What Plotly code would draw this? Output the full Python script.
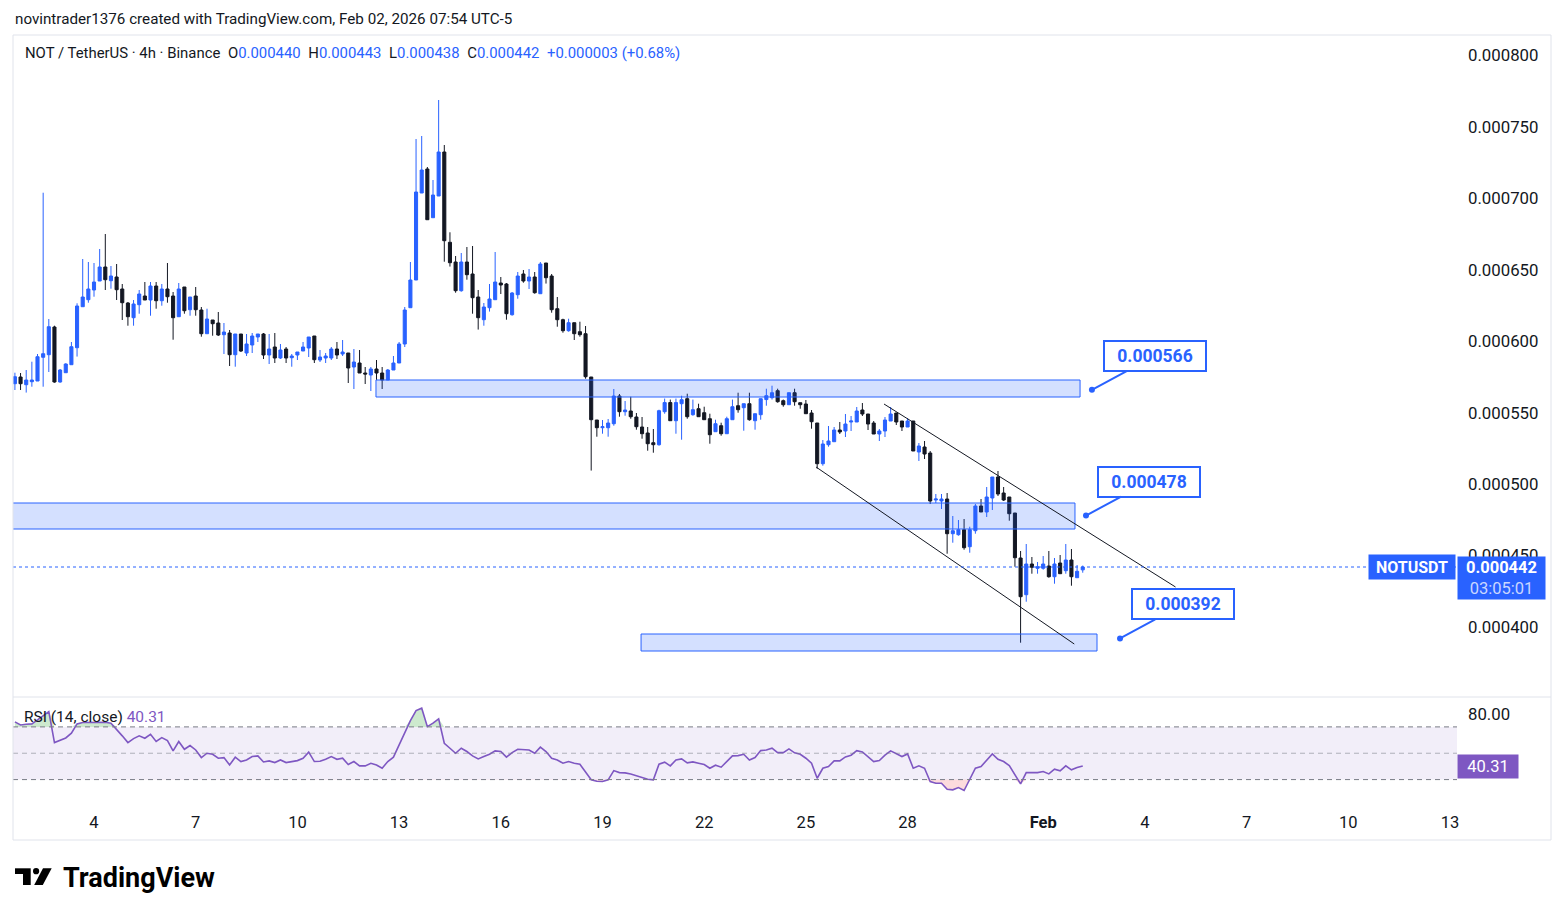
import plotly.graph_objects as go
import pandas as pd

BLUE = "#2962ff"
DARK = "#131722"
PURPLE = "#7e57c2"
FONT = "Roboto"

# ---------------- data (prices in millionths of USDT) ----------------
open_u = [
    570.3, 575.0, 569.6, 571.7, 572.2, 588.8, 590.6, 610.0, 571.5, 578.0,
    583.6, 595.5, 624.2, 629.1, 635.9, 642.2, 652.0, 642.4, 645.0, 636.6,
    626.8, 616.5, 625.6, 631.7, 628.9, 638.7, 628.4, 636.6, 631.7, 617.2,
    638.0, 622.1, 631.7, 621.9, 605.3, 614.9, 612.8, 604.6, 605.8, 590.6,
    605.1, 591.8, 597.4, 603.0, 605.1, 590.4, 596.0, 588.3, 594.6, 588.5,
    590.4, 593.2, 595.3, 603.7, 586.9, 588.3, 588.3, 594.6, 591.1, 591.8,
    582.0, 584.8, 577.8, 576.4, 580.6, 577.8, 572.9, 579.9, 584.8, 598.1,
    623.5, 642.9, 703.8, 720.6, 686.5, 701.7, 732.5, 669.3, 655.5, 635.4,
    655.5, 647.1, 631.0, 615.1, 623.5, 629.1, 640.8, 640.1, 618.6, 632.6,
    647.1, 642.2, 645.0, 633.3, 654.8, 645.7, 622.8, 615.1, 607.4, 613.0,
    606.7, 605.3, 575.0, 544.9, 539.5, 539.5, 542.3, 561.7, 550.7, 551.2,
    547.0, 540.0, 535.8, 529.0, 527.6, 550.7, 557.1, 544.4, 556.3, 559.8,
    548.6, 552.8, 550.0, 545.8, 536.7, 540.9, 535.3, 545.1, 554.9, 553.5,
    556.3, 544.4, 548.6, 559.2, 560.5, 565.4, 558.4, 555.6, 564.0, 557.0,
    556.1, 549.8, 542.8, 514.3, 527.6, 529.7, 537.9, 537.2, 543.5, 543.5,
    551.9, 549.1, 542.8, 535.1, 537.2, 544.2, 549.8, 544.2, 540.0, 544.2,
    522.5, 526.0, 521.8, 488.9, 488.2, 489.6, 465.3, 464.6, 468.1, 456.2,
    467.4, 484.7, 480.5, 490.3, 505.0, 493.8, 491.0, 479.8, 448.3, 422.6,
    444.1, 441.1, 441.1, 442.7, 435.2, 444.8, 439.4, 446.9, 434.5, 440.0,
]
high_u = [
    578.0, 577.8, 579.9, 585.7, 591.1, 704.0, 615.6, 610.9, 580.6, 584.6,
    599.5, 626.6, 657.6, 655.5, 654.8, 664.6, 675.1, 652.7, 654.1, 640.1,
    627.5, 628.9, 635.9, 641.5, 641.5, 641.5, 640.1, 654.8, 634.5, 640.8,
    638.0, 631.0, 638.0, 624.0, 622.8, 614.9, 620.5, 612.8, 607.9, 605.1,
    605.1, 605.1, 605.8, 605.1, 605.8, 605.1, 605.8, 598.1, 596.0, 591.1,
    592.5, 599.5, 603.0, 603.7, 593.9, 591.8, 596.0, 599.5, 600.9, 591.8,
    594.6, 593.9, 582.0, 582.0, 586.9, 582.0, 580.6, 589.7, 599.5, 624.0,
    655.5, 741.6, 743.7, 722.0, 712.9, 768.9, 737.4, 676.3, 659.7, 661.8,
    666.0, 666.7, 635.9, 626.8, 640.1, 662.5, 645.0, 640.8, 634.5, 648.5,
    649.9, 650.6, 648.5, 655.5, 654.8, 647.1, 631.0, 615.8, 615.8, 613.0,
    613.7, 610.7, 575.0, 544.9, 544.9, 545.6, 566.6, 563.1, 558.2, 561.2,
    549.8, 547.0, 540.0, 538.6, 552.1, 559.9, 559.2, 559.9, 561.9, 563.3,
    559.2, 556.3, 554.2, 549.3, 545.1, 543.0, 547.2, 559.2, 564.0, 556.3,
    564.0, 549.3, 559.8, 566.8, 568.9, 566.8, 559.2, 564.0, 566.8, 557.0,
    558.9, 551.9, 542.8, 530.9, 540.7, 540.0, 543.5, 549.1, 547.7, 554.0,
    556.8, 549.1, 544.2, 538.6, 547.0, 554.0, 549.8, 544.2, 546.3, 544.2,
    528.8, 530.2, 523.2, 493.1, 493.1, 493.8, 477.7, 474.9, 475.6, 470.2,
    486.1, 489.6, 498.0, 505.0, 509.2, 498.0, 491.0, 479.8, 453.2, 458.1,
    449.0, 445.5, 449.7, 453.2, 448.3, 450.4, 458.1, 454.6, 443.4, 443.0,
]
low_u = [
    565.9, 565.9, 564.1, 568.2, 572.2, 568.2, 578.5, 571.0, 571.0, 578.0,
    583.6, 589.3, 624.2, 627.0, 631.2, 642.2, 635.9, 636.8, 628.9, 614.9,
    610.9, 610.9, 619.3, 628.9, 617.9, 622.8, 624.9, 627.0, 601.1, 617.2,
    619.3, 617.9, 617.9, 603.2, 605.3, 603.9, 603.7, 591.1, 582.7, 582.2,
    592.5, 589.7, 591.8, 599.5, 587.6, 584.1, 584.8, 587.6, 584.8, 582.2,
    586.9, 593.2, 589.0, 584.8, 585.5, 584.8, 586.9, 587.6, 589.7, 570.8,
    566.6, 577.8, 570.1, 565.2, 572.9, 566.6, 572.9, 579.9, 584.8, 596.0,
    623.5, 642.9, 703.8, 685.1, 686.5, 701.7, 655.7, 652.3, 634.0, 634.7,
    643.1, 619.3, 608.2, 610.9, 620.8, 629.1, 633.1, 615.1, 617.9, 629.8,
    641.0, 636.6, 633.3, 633.3, 640.4, 620.0, 610.2, 606.0, 606.7, 600.9,
    603.2, 573.8, 509.5, 533.2, 535.3, 533.2, 540.9, 547.2, 547.9, 545.8,
    538.1, 531.8, 523.4, 522.0, 526.9, 549.3, 544.4, 535.3, 531.1, 545.8,
    547.9, 547.2, 545.1, 528.3, 536.7, 533.9, 535.3, 545.1, 550.0, 537.4,
    544.4, 538.1, 545.1, 554.9, 559.2, 557.0, 554.2, 555.6, 554.9, 552.8,
    549.3, 538.8, 510.8, 512.9, 526.2, 529.7, 535.1, 533.0, 537.2, 543.5,
    547.7, 537.9, 535.1, 530.2, 533.0, 544.2, 541.4, 537.2, 540.0, 523.2,
    516.2, 517.6, 486.1, 486.8, 482.6, 451.3, 459.0, 463.9, 454.1, 452.0,
    465.3, 480.5, 477.0, 481.9, 491.7, 488.2, 474.4, 442.2, 389.0, 417.7,
    437.3, 437.3, 440.1, 434.5, 430.3, 437.3, 437.3, 428.9, 434.5, 438.0,
]
close_u = [
    575.2, 570.3, 572.9, 572.9, 589.2, 591.3, 610.2, 571.5, 579.9, 584.1,
    596.2, 624.7, 631.0, 636.6, 641.5, 652.0, 643.1, 645.7, 636.1, 627.0,
    617.2, 626.1, 633.1, 628.9, 638.7, 628.4, 636.6, 631.2, 616.5, 636.6,
    621.4, 631.0, 622.1, 605.3, 615.6, 612.3, 604.4, 606.5, 590.6, 605.1,
    593.2, 598.1, 603.7, 605.1, 590.4, 594.6, 588.3, 593.9, 588.3, 589.7,
    592.5, 596.0, 603.0, 587.1, 589.0, 589.7, 594.6, 590.4, 592.5, 581.3,
    585.5, 577.8, 577.1, 580.6, 577.8, 572.9, 579.9, 584.8, 598.1, 621.9,
    642.9, 704.5, 719.9, 685.1, 702.4, 732.5, 670.4, 655.0, 635.4, 655.5,
    646.6, 630.5, 616.5, 624.0, 629.6, 641.5, 639.4, 619.3, 633.8, 645.7,
    642.2, 645.0, 634.0, 654.1, 644.5, 622.1, 615.1, 607.4, 613.0, 605.3,
    604.6, 575.2, 545.1, 539.5, 540.2, 542.8, 561.7, 550.7, 551.9, 547.2,
    540.2, 535.3, 528.3, 527.6, 551.4, 557.1, 544.4, 557.1, 559.1, 547.2,
    552.1, 547.2, 545.1, 534.6, 542.3, 535.3, 545.8, 554.2, 552.1, 556.3,
    545.1, 549.3, 559.8, 561.9, 564.0, 557.7, 555.6, 564.0, 557.7, 555.6,
    549.3, 543.7, 514.3, 528.1, 530.2, 537.9, 536.5, 542.1, 544.2, 551.2,
    549.1, 542.1, 535.1, 537.2, 544.9, 549.1, 543.5, 540.0, 544.2, 523.2,
    526.7, 521.1, 488.2, 489.6, 489.6, 465.3, 467.4, 468.1, 455.5, 468.1,
    484.7, 480.5, 491.0, 505.0, 493.1, 488.9, 479.3, 448.5, 421.2, 444.1,
    441.8, 442.2, 444.1, 435.2, 444.1, 437.3, 446.9, 435.2, 439.0, 442.0,
]
rsi_vals = [
    73.8, 71.5, 72.0, 72.3, 75.3, 78.8, 81.6, 58.1, 60.1, 61.6,
    65.2, 72.3, 73.3, 73.3, 73.3, 73.5, 73.5, 72.8, 68.2, 63.2,
    58.1, 61.1, 63.2, 61.4, 64.4, 58.9, 61.9, 59.6, 51.8, 58.9,
    53.0, 55.8, 52.5, 46.7, 50.0, 49.2, 46.2, 46.7, 41.1, 47.0,
    43.7, 44.9, 47.5, 48.0, 43.4, 44.2, 42.9, 44.9, 42.9, 43.4,
    44.4, 46.2, 50.8, 43.7, 43.9, 45.4, 47.5, 45.4, 46.2, 41.4,
    43.7, 40.4, 40.4, 42.4, 41.1, 38.6, 43.7, 47.0, 56.3, 65.2,
    74.8, 82.4, 84.2, 70.2, 72.8, 76.1, 57.6, 53.8, 50.0, 53.8,
    51.3, 48.0, 45.7, 47.5, 49.2, 51.8, 51.3, 47.0, 50.5, 53.0,
    52.5, 52.5, 50.0, 54.6, 51.3, 46.2, 44.9, 42.4, 43.7, 42.4,
    41.7, 35.3, 29.8, 28.7, 28.5, 29.8, 36.8, 35.3, 35.1, 34.3,
    32.8, 31.5, 30.3, 29.8, 41.7, 43.2, 40.4, 44.9, 45.7, 42.7,
    43.4, 42.4, 41.4, 38.6, 40.9, 39.4, 43.7, 48.0, 48.2, 49.2,
    44.9, 46.7, 52.0, 52.5, 53.8, 50.5, 50.5, 53.3, 50.3, 49.2,
    46.2, 42.4, 31.0, 38.6, 39.9, 44.2, 44.2, 47.2, 48.5, 52.0,
    51.0, 47.0, 43.7, 44.4, 48.5, 51.8, 49.5, 47.5, 49.5, 38.6,
    40.4, 38.6, 28.5, 27.2, 27.2, 22.7, 22.2, 23.9, 21.7, 30.3,
    38.6, 39.9, 44.4, 49.5, 45.4, 43.7, 40.6, 33.6, 26.7, 35.3,
    35.3, 35.3, 36.1, 34.3, 37.9, 36.6, 40.4, 37.4, 39.1, 40.31,
]

first_bar = "2026-01-01 19:00"
bar_times = pd.date_range(first_bar, periods=len(close_u), freq="4h")

tick_dates = ["2026-01-04 03:00", "2026-01-07 03:00", "2026-01-10 03:00", "2026-01-13 03:00",
              "2026-01-16 03:00", "2026-01-19 03:00", "2026-01-22 03:00", "2026-01-25 03:00",
              "2026-01-28 03:00", "2026-02-01 03:00", "2026-02-04 03:00", "2026-02-07 03:00",
              "2026-02-10 03:00", "2026-02-13 03:00"]
tick_labels = ["4", "7", "10", "13", "16", "19", "22", "25", "28", "<b>Feb</b>", "4", "7", "10", "13"]
price_ticks = [0.00040, 0.00045, 0.00050, 0.00055, 0.00060, 0.00065, 0.00070, 0.00075, 0.00080]

# drawings
zone_start = ["2026-01-12 10:38", "2025-12-28 00:00", "2026-01-20 06:18"]
zone_end = ["2026-02-02 05:06", "2026-02-02 01:30", "2026-02-02 17:06"]
zone_low = [0.0005610, 0.0004686, 0.0003832]
zone_high = [0.0005729, 0.0004868, 0.0003951]

channel_t0 = ["2026-01-27 10:18", "2026-01-25 10:12"]
channel_t1 = ["2026-02-05 00:42", "2026-02-02 01:00"]
channel_p0 = [0.0005561, 0.0005120]
channel_p1 = [0.0004280, 0.0003881]

callout_time = ["2026-02-02 13:30", "2026-02-02 09:18", "2026-02-03 09:24"]
callout_price = [0.000566, 0.000478, 0.000392]

last_price = 0.000442
rsi_last = 40.31

scale = 1e-6
O = [v * scale for v in open_u]
Hh = [v * scale for v in high_u]
Ll = [v * scale for v in low_u]
C = [v * scale for v in close_u]

# ---------------- pixel geometry helpers (decoration only) ----------------
PL, PR, PT, PB = 13, 1457, 35, 805


def px(x):
    return (x - PL) / (PR - PL)


def py(y):
    return (PB - y) / (PB - PT)


SPLIT = py(697)

fig = go.Figure()

fig.add_trace(go.Candlestick(
    x=bar_times, open=O, high=Hh, low=Ll, close=C,
    increasing=dict(line=dict(color=BLUE, width=1), fillcolor=BLUE),
    decreasing=dict(line=dict(color=DARK, width=1), fillcolor=DARK),
    whiskerwidth=0, xaxis="x", yaxis="y", hoverinfo="skip", showlegend=False))

# callout dots
fig.add_trace(go.Scatter(x=callout_time, y=callout_price, mode="markers",
                         marker=dict(size=6, color=BLUE), xaxis="x", yaxis="y",
                         hoverinfo="skip", showlegend=False))

# RSI fills
ob = [max(v, 70) for v in rsi_vals]
os_ = [min(v, 30) for v in rsi_vals]
fig.add_trace(go.Scatter(x=bar_times, y=[70] * len(rsi_vals), mode="lines", line=dict(width=0),
                         xaxis="x", yaxis="y2", hoverinfo="skip", showlegend=False))
fig.add_trace(go.Scatter(x=bar_times, y=ob, mode="lines", line=dict(width=0), fill="tonexty",
                         fillcolor="rgba(76,175,80,0.28)", xaxis="x", yaxis="y2",
                         hoverinfo="skip", showlegend=False))
fig.add_trace(go.Scatter(x=bar_times, y=[30] * len(rsi_vals), mode="lines", line=dict(width=0),
                         xaxis="x", yaxis="y2", hoverinfo="skip", showlegend=False))
fig.add_trace(go.Scatter(x=bar_times, y=os_, mode="lines", line=dict(width=0), fill="tonexty",
                         fillcolor="rgba(242,54,69,0.18)", xaxis="x", yaxis="y2",
                         hoverinfo="skip", showlegend=False))
fig.add_trace(go.Scatter(x=bar_times, y=rsi_vals, mode="lines",
                         line=dict(color=PURPLE, width=1.6), xaxis="x", yaxis="y2",
                         hoverinfo="skip", showlegend=False))

shapes = []
# RSI band & levels
shapes.append(dict(type="rect", xref="paper", yref="y2", x0=0, x1=1, y0=30, y1=70,
                   fillcolor="rgba(126,87,194,0.1)", line=dict(width=0), layer="below"))
for lvl, col in [(70, "#787b86"), (30, "#787b86"), (50, "rgba(120,123,134,0.55)")]:
    shapes.append(dict(type="line", xref="paper", yref="y2", x0=0, x1=1, y0=lvl, y1=lvl,
                       line=dict(color=col, width=1, dash="5px,4px")))
# zones
for x0, x1, lo, hi in zip(zone_start, zone_end, zone_low, zone_high):
    shapes.append(dict(type="rect", xref="x", yref="y", x0=x0, x1=x1, y0=lo, y1=hi,
                       fillcolor="rgba(41,98,255,0.2)", line=dict(color=BLUE, width=1)))
# channel
for t0, t1, p0, p1 in zip(channel_t0, channel_t1, channel_p0, channel_p1):
    shapes.append(dict(type="line", xref="x", yref="y", x0=t0, x1=t1, y0=p0, y1=p1,
                       line=dict(color=DARK, width=1)))
# last price line
shapes.append(dict(type="line", xref="paper", yref="y", x0=0, x1=1, y0=last_price, y1=last_price,
                   line=dict(color=BLUE, width=1, dash="dot")))
# frame
FR = px(1551)
FB = py(840)
frame_col = "#e0e3eb"
shapes += [
    dict(type="line", xref="paper", yref="paper", x0=0, x1=FR, y0=1, y1=1, line=dict(color=frame_col, width=1)),
    dict(type="line", xref="paper", yref="paper", x0=0, x1=FR, y0=FB, y1=FB, line=dict(color=frame_col, width=1)),
    dict(type="line", xref="paper", yref="paper", x0=0, x1=0, y0=FB, y1=1, line=dict(color=frame_col, width=1)),
    dict(type="line", xref="paper", yref="paper", x0=FR, x1=FR, y0=FB, y1=1, line=dict(color=frame_col, width=1)),
    dict(type="line", xref="paper", yref="paper", x0=0, x1=FR, y0=SPLIT, y1=SPLIT, line=dict(color=frame_col, width=1)),
]
# TradingView logo glyph
logo_col = "#000000"
shapes += [
    dict(type="rect", xref="paper", yref="paper", x0=px(15), x1=px(30.7), y0=py(874), y1=py(868.3),
         fillcolor=logo_col, line=dict(width=0)),
    dict(type="rect", xref="paper", yref="paper", x0=px(23), x1=px(30.7), y0=py(885), y1=py(874),
         fillcolor=logo_col, line=dict(width=0)),
    dict(type="circle", xref="paper", yref="paper", x0=px(33), x1=px(39.2), y0=py(874.3), y1=py(868.1),
         fillcolor=logo_col, line=dict(width=0)),
    dict(type="path", xref="paper", yref="paper",
         path=f"M {px(43.0)} {py(868.3)} L {px(51.7)} {py(868.3)} L {px(42.8)} {py(885)} L {px(34.2)} {py(885)} Z",
         fillcolor=logo_col, line=dict(width=0)),
]

ann = []
ann.append(dict(xref="paper", yref="paper", x=px(13), y=py(19), xanchor="left", yanchor="middle",
                text="novintrader1376 created with TradingView.com, Feb 02, 2026 07:54 UTC-5",
                showarrow=False, font=dict(size=15.2, color=DARK)))
chg = (close_u[-1] - close_u[-2]) * scale
pct = (close_u[-1] - close_u[-2]) / close_u[-2] * 100
sp = "\u2002"


def bl(s):
    return f"<span style='color:{BLUE}'>{s}</span>"


legend_txt = ("NOT / TetherUS · 4h · Binance" + sp + "O" + bl(f"{O[-1]:.6f}") + sp + "H" + bl(f"{Hh[-1]:.6f}")
              + sp + "L" + bl(f"{Ll[-1]:.6f}") + sp + "C" + bl(f"{C[-1]:.6f}") + sp
              + bl(f"{chg:+.6f} ({pct:+.2f}%)"))
ann.append(dict(xref="paper", yref="paper", x=px(23), y=py(53), xanchor="left", yanchor="middle",
                text=legend_txt, showarrow=False, font=dict(size=14.9, color=DARK)))
ann.append(dict(xref="paper", yref="paper", x=px(22), y=py(717), xanchor="left", yanchor="middle",
                text=f"RSI (14, close) <span style='color:{PURPLE}'>{rsi_last:.2f}</span>",
                showarrow=False, font=dict(size=15.5, color=DARK)))
for t, p in zip(callout_time, callout_price):
    ann.append(dict(xref="x", yref="y", x=t, y=p, text=f"<b>{p:.6f}</b>", showarrow=True,
                    arrowhead=0, arrowwidth=2, arrowcolor=BLUE, ax=63, ay=-34, standoff=0,
                    bordercolor=BLUE, borderwidth=2, borderpad=3, bgcolor="white", width=94, height=22,
                    font=dict(size=17.5, color=BLUE)))
ann.append(dict(xref="paper", yref="y", x=px(1412), y=last_price, xanchor="center", yanchor="middle",
                text="<b>NOTUSDT</b>", showarrow=False, bgcolor=BLUE, width=82, height=20, borderpad=2,
                font=dict(size=16, color="white")))
ann.append(dict(xref="paper", yref="y", x=px(1501.5), y=last_price, xanchor="center", yanchor="top",
                yshift=11, text=f"<b>{last_price:.6f}</b><br><span style='color:#c9d6ff'>03:05:01</span>",
                showarrow=False, bgcolor=BLUE, width=83, height=38, borderpad=2,
                font=dict(size=16.5, color="white")))
ann.append(dict(xref="paper", yref="y2", x=px(1488), y=rsi_last, xanchor="center", yanchor="middle",
                text=f"{rsi_last:.2f}", showarrow=False, bgcolor=PURPLE, width=56, height=19, borderpad=2,
                font=dict(size=16.5, color="white")))
ann.append(dict(xref="paper", yref="paper", x=px(61), y=py(878), xanchor="left", yanchor="middle",
                text="<b>TradingView</b>", showarrow=False, font=dict(size=27, color="#000000")))

fig.update_layout(
    width=1564, height=916, autosize=False,
    margin=dict(l=PL, r=1564 - PR, t=PT, b=916 - PB),
    paper_bgcolor="white", plot_bgcolor="white",
    font=dict(family=FONT, color=DARK),
    showlegend=False, boxgap=0.22, hovermode=False,
    xaxis=dict(domain=[0, 1], anchor="y2", type="date",
               range=["2026-01-01 17:39", "2026-02-13 07:58"],
               tickvals=tick_dates, ticktext=tick_labels, showgrid=False, zeroline=False,
               showline=False, ticks="", ticklabelstandoff=5,
               tickfont=dict(size=16.5, color=DARK), rangeslider=dict(visible=False)),
    yaxis=dict(domain=[SPLIT, 1], anchor="x", side="right",
               range=[0.000351, 0.0008144], tickvals=price_ticks,
               ticktext=[f"{v:.6f}" for v in price_ticks], showgrid=False, zeroline=False,
               showline=False, ticks="", ticklabelstandoff=10, tickfont=dict(size=16.8, color=DARK)),
    yaxis2=dict(domain=[0, SPLIT], anchor="x", side="right", range=[10.7, 92.7],
                tickvals=[80], ticktext=["80.00"], showgrid=False, zeroline=False, showline=False,
                ticks="", ticklabelstandoff=10, tickfont=dict(size=16.8, color=DARK)),
    shapes=shapes, annotations=ann,
)

fig.write_html("out.html", config={"displayModeBar": False})
